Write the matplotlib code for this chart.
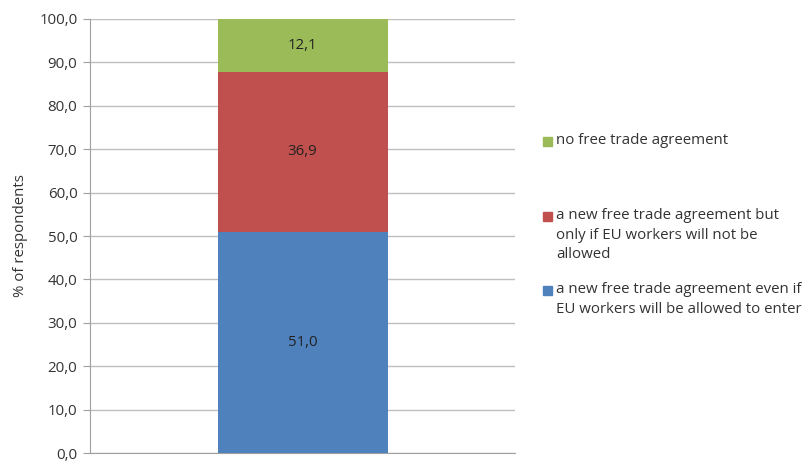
import matplotlib.pyplot as plt
from matplotlib.patches import Rectangle

# stacked shares, bottom to top
labels = ["a new free trade agreement even if\nEU workers will be allowed to enter",
          "a new free trade agreement but\nonly if EU workers will not be\nallowed",
          "no free trade agreement"]
values = [51.0, 36.9, 12.1]
colors = ["#4F81BD", "#C0504D", "#9BBB59"]
yticks = [0, 10, 20, 30, 40, 50, 60, 70, 80, 90, 100]

plt.rcParams['font.family'] = ['Open Sans', 'DejaVu Sans']
fs = 10.8

fig = plt.figure(figsize=(8.12, 4.61), dpi=100)
ax = fig.add_axes([90/812, 1 - 453/461, 425/812, 434/461])

bottom = 0
for v, c in zip(values, colors):
    ax.bar(0, v, bottom=bottom, width=0.4, color=c, zorder=3)
    ax.text(0, bottom + v/2, f"{v:.1f}".replace(".", ","), ha="center", va="center",
            fontsize=fs, color="#222222", zorder=4)
    bottom += v

ax.set_xlim(-0.5, 0.5)
ax.set_ylim(0, 100)
ax.set_yticks(yticks)
ax.set_yticklabels([f"{t:.1f}".replace(".", ",") for t in yticks], fontsize=fs, color="#333333")
ax.set_xticks([])
ax.yaxis.grid(True, color="#BFBFBF", linewidth=1, zorder=0)
ax.tick_params(axis="y", length=5, color="#A0A0A0", pad=4)
for s in ["top", "right"]:
    ax.spines[s].set_visible(False)
ax.spines["left"].set_color("#A0A0A0")
ax.spines["bottom"].set_color("#A0A0A0")
ax.set_ylabel("% of respondents", fontsize=fs, color="#333333", labelpad=8)

# legend drawn by hand, top entry first
ypos = [290, 216, 141]
for lab, c, y in zip(labels, colors, ypos):
    fig.patches.append(Rectangle((543/812, 1 - (y + 5)/461), 9/812, 9/461,
                                 transform=fig.transFigure, color=c))
    fig.text(556/812, 1 - (y - 8)/461, lab, fontsize=fs, color="#333333",
             va="top", ha="left", linespacing=1.42)

fig.savefig("out.png", dpi=100)
